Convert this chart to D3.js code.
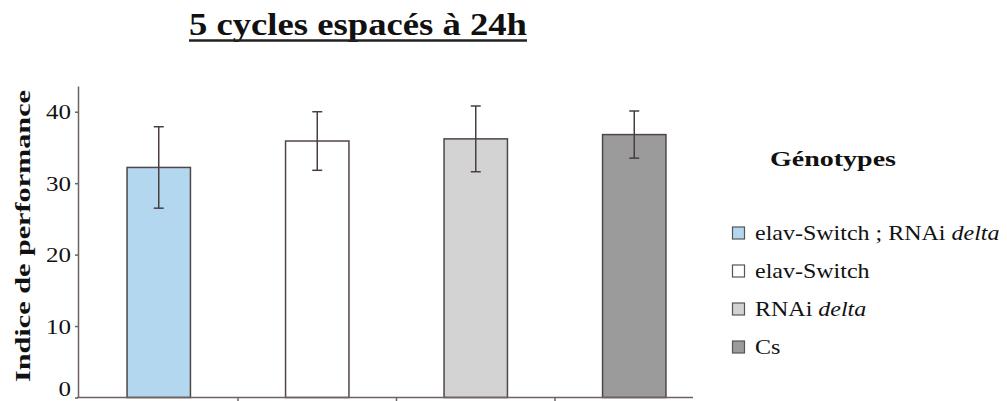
<!DOCTYPE html>
<html><head><meta charset="utf-8">
<script src="https://cdn.jsdelivr.net/npm/d3@7"></script>
<style>body{margin:0;background:#fff}svg{display:block}text{font-family:"Liberation Serif","Times New Roman",serif;fill:#111}</style>
</head><body>
<svg id="c" width="1007" height="401"></svg>
<script>
const categories = ["elav-Switch ; RNAi delta", "elav-Switch", "RNAi delta", "Cs"];
const values = [32.2, 35.9, 36.2, 36.8];
const errors = [5.7, 4.1, 4.6, 3.3];
const fills = ["#b3d7ef", "#ffffff", "#d3d3d3", "#9b9b9b"];
const yTicks = [0, 10, 20, 30, 40];
const title = "5 cycles espacés à 24h";
const yLabel = "Indice de performance";
const legendTitle = "Génotypes";

const svg = d3.select("#c");
const x = d3.scaleBand().domain(categories).range([79.5, 713.5]).paddingInner(0.6).paddingOuter(0.3);
const y = d3.scaleLinear().domain([0, 43.6]).range([397.5, 86]);
const axisCol = "#6e6262";

// bars
svg.selectAll("rect.bar").data(categories).join("rect")
  .attr("x", d => x(d)).attr("width", x.bandwidth())
  .attr("y", (d,i) => y(values[i])).attr("height", (d,i) => y(0) - y(values[i]))
  .attr("fill", (d,i) => fills[i]).attr("stroke", "#514545").attr("stroke-width", 1.5);

// error bars
const eb = svg.selectAll("g.err").data(categories).join("g").attr("stroke", "#4a3e3e").attr("stroke-width", 1.5);
eb.append("line").attr("x1", d => x(d) + x.bandwidth()/2).attr("x2", d => x(d) + x.bandwidth()/2)
  .attr("y1", (d,i) => y(values[i] + errors[i])).attr("y2", (d,i) => y(values[i] - errors[i]));
eb.append("line").attr("x1", d => x(d) + x.bandwidth()/2 - 5).attr("x2", d => x(d) + x.bandwidth()/2 + 5)
  .attr("y1", (d,i) => y(values[i] + errors[i])).attr("y2", (d,i) => y(values[i] + errors[i]));
eb.append("line").attr("x1", d => x(d) + x.bandwidth()/2 - 5).attr("x2", d => x(d) + x.bandwidth()/2 + 5)
  .attr("y1", (d,i) => y(values[i] - errors[i])).attr("y2", (d,i) => y(values[i] - errors[i]));

// y axis
const ya = svg.append("g").attr("transform", "translate(78,0)").attr("font-family", "Liberation Serif")
  .call(d3.axisLeft(y).tickValues(yTicks).tickSize(3).tickPadding(4).tickSizeOuter(0));
ya.select(".domain").attr("stroke", axisCol).attr("stroke-width", 1.5);
ya.selectAll(".tick line").attr("stroke", axisCol).attr("stroke-width", 1.5);
ya.selectAll(".tick text").attr("font-size", 20).attr("fill", "#222")
  .attr("dy", d => d === 0 ? "-0.08em" : "0.35em")
  .each(function(){ const t=d3.select(this); t.attr("textLength", t.text().length*12.5).attr("lengthAdjust","spacingAndGlyphs"); });

// x axis
const sepTicks = categories.slice(1).map(d => x(d) - x.step()*x.paddingInner()/2);
svg.append("line").attr("x1", 77).attr("x2", 693).attr("y1", y(0)).attr("y2", y(0)).attr("stroke", axisCol).attr("stroke-width", 1.5);
svg.selectAll("line.sep").data(sepTicks).join("line").attr("class","sep")
  .attr("x1", d => d).attr("x2", d => d).attr("y1", y(0)).attr("y2", y(0) + 4)
  .attr("stroke", axisCol).attr("stroke-width", 1.5);

// title
svg.append("text").attr("x", 358).attr("y", 35).attr("text-anchor", "middle")
  .attr("font-size", 32).attr("font-weight", "bold").attr("textLength", 338).attr("lengthAdjust", "spacingAndGlyphs")
  .text(title);
svg.append("line").attr("x1", 189).attr("x2", 527).attr("y1", 40.5).attr("y2", 40.5).attr("stroke", "#222").attr("stroke-width", 2.5);

// y label
svg.append("text").attr("transform", "translate(30,236) rotate(-90)").attr("text-anchor", "middle")
  .attr("font-size", 22).attr("font-weight", "bold").attr("textLength", 292).attr("lengthAdjust", "spacingAndGlyphs")
  .text(yLabel);

// legend
svg.append("text").attr("x", 770).attr("y", 166).attr("font-size", 21).attr("font-weight", "bold")
  .attr("textLength", 126).attr("lengthAdjust", "spacingAndGlyphs").text(legendTitle);
const baselines = [240, 278, 316, 354];
const lg = svg.selectAll("g.leg").data(categories).join("g").attr("class", "leg")
  .attr("transform", (d,i) => `translate(0,${baselines[i]})`);
lg.append("rect").attr("x", 732.5).attr("y", -13).attr("width", 12).attr("height", 12)
  .attr("fill", (d,i) => fills[i]).attr("stroke", "#555").attr("stroke-width", 1.2);
lg.append("text").attr("transform", "translate(755,0) scale(1.2,1)").attr("font-size", 20)
  .each(function(d){
    const t = d3.select(this);
    const m = d.match(/^(.*?)(delta)$/);
    if (m) { t.append("tspan").text(m[1]); t.append("tspan").attr("font-style", "italic").text(m[2]); }
    else t.text(d);
  });
</script>
</body></html>
